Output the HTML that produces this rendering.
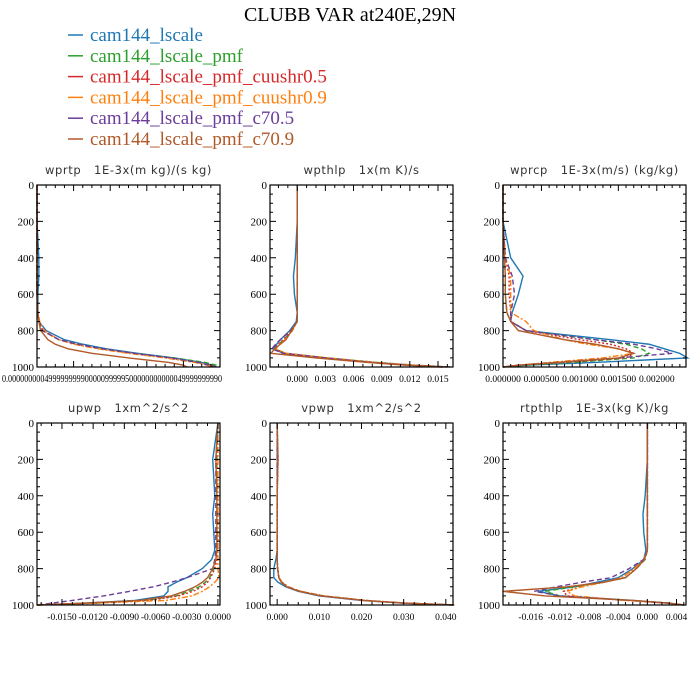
<!DOCTYPE html>
<html><head><meta charset="utf-8"><style>
html,body{margin:0;padding:0;background:#fff;}
svg{display:block;}
</style></head><body>
<svg id="chart" width="700" height="700" viewBox="0 0 700 700" xmlns="http://www.w3.org/2000/svg">
<text x="350" y="21" text-anchor="middle" font-family="Liberation Serif, serif" font-size="20">CLUBB VAR at240E,29N</text>
<g id="legend"></g>
<g id="panels"></g>
</svg>
<script>
const seriesNames = ["cam144_lscale","cam144_lscale_pmf","cam144_lscale_pmf_cuushr0.5","cam144_lscale_pmf_cuushr0.9","cam144_lscale_pmf_c70.5","cam144_lscale_pmf_c70.9"];
const seriesColors = ["#1f77b4","#2ca02c","#d62728","#ff7f0e","#6a3d9a","#b15928"];
const seriesDash = ["", "5,3", "2,2", "6,2,2,2", "5,3", ""];
const levels = [0,200,400,500,600,700,750,800,850,875,900,925,950,975,990,1000];
const yTickLabels = ["0","200","400","600","800","1000"];
const yTickValues = [0,200,400,600,800,1000];

// wprtp (normalized units)
const wprtp = [
 [0,0,0.01,0.01,0.005,0.005,0.01,0.05,0.15,0.25,0.38,0.55,0.75,0.9,0.96,0.98],
 [0,0,0,0,0,0.005,0.01,0.03,0.12,0.22,0.35,0.53,0.75,0.92,0.98,1.0],
 [0,0,0,0,0,0.005,0.01,0.03,0.12,0.22,0.35,0.52,0.72,0.88,0.95,0.98],
 [0,0,0,0,0,0.005,0.015,0.04,0.12,0.2,0.33,0.5,0.7,0.86,0.93,0.95],
 [0,0,0,0,0,0.005,0.01,0.03,0.12,0.22,0.36,0.53,0.73,0.88,0.94,0.96],
 [0,0,0,0,0,0.005,0.01,0.02,0.06,0.1,0.17,0.3,0.5,0.72,0.8,0.82]];
const wprtpTicks = [0,0.2,0.4,0.6,0.8,1.0];
// wpthlp
const wpthlp = [
 [0,0,-0.0002,-0.0004,-0.0003,0,-0.0001,-0.0008,-0.0018,-0.0022,-0.0025,-0.0015,0.003,0.008,0.012,0.0155],
 [0,0,0,0,0,0,0,-0.0006,-0.0014,-0.002,-0.0024,-0.0012,0.0032,0.0085,0.0125,0.0165],
 [0,0,0,0,0,0,0,-0.0006,-0.0015,-0.002,-0.0024,-0.0013,0.003,0.008,0.012,0.016],
 [0,0,0,0,0,0,0,-0.0005,-0.0013,-0.0019,-0.0023,-0.0012,0.0032,0.0085,0.0125,0.016],
 [0,0,0,0,0,0,0,-0.0007,-0.0018,-0.0023,-0.0027,-0.0015,0.003,0.008,0.012,0.016],
 [0,0,0,0,0,0,0,-0.0006,-0.0012,-0.0018,-0.0024,-0.0028,0.002,0.0075,0.0115,0.0155]];
const wpthlpTicks = [0,0.003,0.006,0.009,0.012,0.015];
const wpthlpLabels = ["0.000","0.003","0.006","0.009","0.012","0.015"];
// wprcp
const wprcp = [
 [0,0,0.0001,0.00026,0.0002,0.00012,0.0001,0.0003,0.0014,0.0019,0.0021,0.0023,0.0024,0.0012,0.0003,0],
 [0,0,0.00002,0.00003,0.00003,0.00005,0.0001,0.0003,0.0012,0.0016,0.0018,0.0019,0.0017,0.0009,0.0003,0],
 [0,0,0.00003,0.00008,0.00008,0.0001,0.0001,0.0003,0.001,0.0014,0.0016,0.0017,0.0016,0.0008,0.0002,0],
 [0,0,0.00003,0.0001,0.0001,0.0001,0.0003,0.0004,0.0008,0.0011,0.0015,0.0017,0.0013,0.0006,0.0002,0],
 [0,0,0.00003,0.00012,0.00015,0.0001,0.0001,0.0003,0.0012,0.0017,0.002,0.0022,0.0015,0.0007,0.0002,0],
 [0,0,0.00002,0.00003,0.00003,0.00005,0.0001,0.0002,0.0008,0.0012,0.0015,0.0017,0.0015,0.0007,0.0002,0]];
const wprcpTicks = [0,0.0005,0.001,0.0015,0.002];
const wprcpLabels = ["0.000000","0.000500","0.001000","0.001500","0.002000"];
// upwp
const upwp = [
 [0,-0.0005,-0.0003,-0.0005,-0.0004,-0.0003,-0.0006,-0.0015,-0.003,-0.004,-0.0048,-0.0048,-0.0052,-0.008,-0.013,-0.0174],
 [0,-0.0001,-0.0001,-0.0001,-0.0001,-0.0001,-0.0002,-0.0004,-0.0008,-0.0012,-0.0018,-0.0028,-0.004,-0.007,-0.012,-0.0174],
 [0,-0.0001,0,0,0,0,-0.0001,-0.0003,-0.0007,-0.001,-0.0015,-0.0024,-0.0038,-0.0065,-0.012,-0.0174],
 [0,0,0,0,0,0,0,0,0.0001,-0.0003,-0.0008,-0.0015,-0.0025,-0.005,-0.012,-0.0174],
 [0,-0.0002,-0.0002,-0.0002,-0.0002,-0.0002,-0.0003,-0.0005,-0.003,-0.0045,-0.0062,-0.0085,-0.011,-0.014,-0.016,-0.0174],
 [0,-0.0002,-0.0001,-0.0001,-0.0001,-0.0001,-0.0002,-0.0005,-0.001,-0.0015,-0.0022,-0.0032,-0.0045,-0.0075,-0.013,-0.0174]];
const upwpTicks = [-0.015,-0.012,-0.009,-0.006,-0.003,0];
const upwpLabels = ["-0.0150","-0.0120","-0.0090","-0.0060","-0.0030","0.0000"];
// vpwp
const vpwp = [
 [0,0,0,0,0,0,-0.0003,-0.0008,-0.0008,0.0002,0.002,0.005,0.01,0.02,0.03,0.042],
 [0,0.0001,0,0,0,0,0,0.0001,0.0004,0.001,0.0025,0.0055,0.011,0.021,0.031,0.042],
 [0,0.0002,0,0,0,0,0,0.0001,0.0004,0.001,0.0025,0.0055,0.011,0.021,0.031,0.042],
 [0,0.0001,0,0,0,0,0,0.0001,0.0005,0.0012,0.0027,0.0057,0.011,0.021,0.031,0.042],
 [0,0,0,0,0,0,0,0.0001,0.0004,0.001,0.0024,0.0053,0.0105,0.0205,0.0305,0.042],
 [0,0.0002,0,0,0,0,0,0.0001,0.0004,0.001,0.0023,0.0052,0.0105,0.0205,0.0305,0.042]];
const vpwpTicks = [0,0.01,0.02,0.03,0.04];
const vpwpLabels = ["0.000","0.010","0.020","0.030","0.040"];
// rtpthlp
const rtpthlp = [
 [0,0,-0.0003,-0.0006,-0.0005,-0.0002,-0.0005,-0.002,-0.004,-0.007,-0.01,-0.015,-0.012,-0.002,0.003,0.005],
 [0,0,0,0,0,0,-0.0003,-0.0015,-0.003,-0.006,-0.01,-0.014,-0.012,-0.002,0.003,0.005],
 [0,0,0,0,0,0,-0.0005,-0.0018,-0.0035,-0.006,-0.009,-0.0115,-0.011,-0.003,0.003,0.005],
 [0,0,0,0,0,0,-0.0005,-0.0018,-0.0035,-0.006,-0.009,-0.011,-0.01,-0.003,0.003,0.005],
 [0,0,0,0,0,0,-0.0005,-0.0025,-0.005,-0.009,-0.0125,-0.0155,-0.012,-0.002,0.003,0.005],
 [0,0,0,0,0,0,-0.0004,-0.0015,-0.003,-0.006,-0.011,-0.0198,-0.014,-0.002,0.003,0.005]];
const rtpthlpTicks = [-0.016,-0.012,-0.008,-0.004,0,0.004];
const rtpthlpLabels = ["-0.016","-0.012","-0.008","-0.004","0.000","0.004"];

const NS = "http://www.w3.org/2000/svg";
function mk(tag, attrs, parent){ const e=document.createElementNS(NS,tag); for(const k in attrs) e.setAttribute(k,attrs[k]); parent.appendChild(e); return e; }

// legend
const leg = document.getElementById('legend');
seriesNames.forEach((n,i)=>{
  const y = 35 + i*20.8;
  const l = mk('line',{x1:68,x2:83,y1:y,y2:y,stroke:seriesColors[i],'stroke-width':1.5},leg);
  
  
  const t = mk('text',{x:90,y:y+6,fill:seriesColors[i],'font-family':'Liberation Serif, serif','font-size':19},leg);
  t.textContent = n;
  
  
});

const panels = [
 {name:'wprtp',title:'wprtp   1E-3x(m kg)/(s kg)',x0:37,y0:185,data:wprtp,dom:[0,1.0],ticks:wprtpTicks,labels:null,minor:0.05},
 {name:'wpthlp',title:'wpthlp   1x(m K)/s',x0:270,y0:185,data:wpthlp,dom:[-0.0029,0.0166],ticks:wpthlpTicks,labels:wpthlpLabels,minor:0.001},
 {name:'wprcp',title:'wprcp   1E-3x(m/s) (kg/kg)',x0:503,y0:185,data:wprcp,dom:[0,0.00238],ticks:wprcpTicks,labels:wprcpLabels,minor:0.0001},
 {name:'upwp',title:'upwp   1xm^2/s^2',x0:37,y0:423,data:upwp,dom:[-0.0174,0.0002],ticks:upwpTicks,labels:upwpLabels,minor:0.001},
 {name:'vpwp',title:'vpwp   1xm^2/s^2',x0:270,y0:423,data:vpwp,dom:[-0.0017,0.0417],ticks:vpwpTicks,labels:vpwpLabels,minor:0.0025},
 {name:'rtpthlp',title:'rtpthlp   1E-3x(kg K)/kg',x0:503,y0:423,data:rtpthlp,dom:[-0.0198,0.0053],ticks:rtpthlpTicks,labels:rtpthlpLabels,minor:0.001}];
const W=183,H=182;
const root=document.getElementById('panels');
panels.forEach(p=>{
  const g=mk('g',{},root);
  
  
  const xs=v=>p.x0+(v-p.dom[0])/(p.dom[1]-p.dom[0])*W;
  const ys=v=>p.y0+v/1000*H;
  const t=mk('text',{x:p.x0+W/2,y:p.y0-11,'text-anchor':'middle','font-family':'DejaVu Sans, sans-serif','font-size':11.5,fill:'#333','letter-spacing':'0.6',style:'white-space:pre'},g);
  t.textContent=p.title;
  
  
  p.data.forEach((vals,i)=>{
    const d=vals.map((v,k)=>(k?'L':'M')+xs(v).toFixed(2)+','+ys(levels[k]).toFixed(2)).join('');
    const a={d:d,fill:'none',stroke:seriesColors[i],'stroke-width':1.4};
    if(seriesDash[i]) a['stroke-dasharray']=seriesDash[i];
    const path=mk('path',a,g);
    
    
  });
  const r=mk('rect',{x:p.x0,y:p.y0,width:W,height:H,fill:'none',stroke:'#000','stroke-width':1.2},g);
  
  
  let tk='';
  for(let v=0;v<=1000;v+=50){
    const len=(v%200===0)?6:3, y=ys(v);
    tk+=`M${p.x0},${y}h${len}M${p.x0+W},${y}h${-len}`;
  }
  const lo=Math.ceil(p.dom[0]/p.minor-1e-6), hi=Math.floor(p.dom[1]/p.minor+1e-6);
  for(let k=lo;k<=hi;k++){
    const v=k*p.minor, x=xs(v);
    const major=p.ticks.some(tv=>Math.abs(tv-v)<p.minor*0.01);
    const len=major?6:3;
    tk+=`M${x},${p.y0+H}v${-len}M${x},${p.y0}v${len}`;
  }
  const tp=mk('path',{d:tk,stroke:'#000','stroke-width':1,fill:'none'},g);
  
  
  yTickValues.forEach((v,k)=>{
    const tl=mk('text',{x:p.x0-3,y:ys(v)+4,'text-anchor':'end','font-family':'Liberation Serif, serif','font-size':11},g);
    tl.textContent=yTickLabels[k];
    
    
  });
  if(p.labels){
    p.ticks.forEach((v,k)=>{
      const tl=mk('text',{x:xs(v),y:p.y0+H+15,'text-anchor':'middle','font-family':'Liberation Serif, serif','font-size':9.5},g);
      tl.textContent=p.labels[k];
      
      
    });
  } else {
    const tl=mk('text',{x:2,y:p.y0+H+15,'font-family':'Liberation Serif, serif','font-size':10.5,textLength:220,lengthAdjust:'spacingAndGlyphs'},g);
    tl.textContent='0.00000000049999999990000099999500000000000049999999990';
    
    
  }
});
</script>
</body></html>
